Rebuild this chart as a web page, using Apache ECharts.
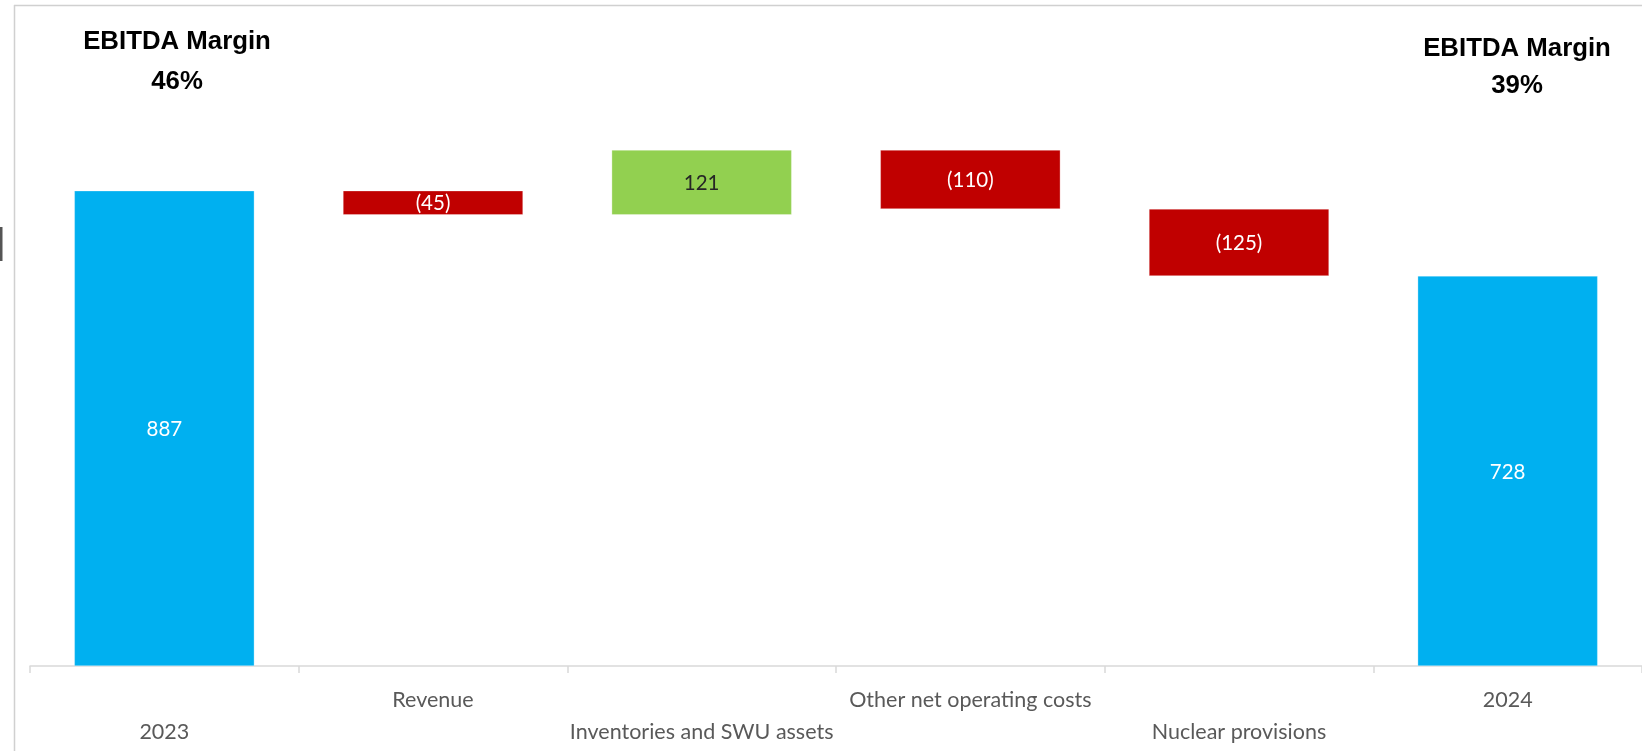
<!DOCTYPE html>
<html>
<head>
<meta charset="utf-8">
<title>EBITDA bridge 2023 to 2024</title>
<script src="https://cdn.jsdelivr.net/npm/echarts@6/dist/echarts.min.js"></script>
<style>
  html, body { margin: 0; padding: 0; background: #ffffff; }
  #chart { width: 1642px; height: 751px; }
</style>
</head>
<body>
<div id="chart"></div>
<script>
// Bridge steps, left to right
const categories = ['2023', 'Revenue', 'Inventories and SWU assets', 'Other net operating costs', 'Nuclear provisions', '2024'];
// Totals are absolute values; the steps in between are changes
const stepValues = [887, -45, 121, -110, -125, 728];
const stepKinds = ['total', 'delta', 'delta', 'delta', 'delta', 'total'];
// Margin notes above the two totals
const marginTitles = ['EBITDA Margin', 'EBITDA Margin'];
const marginValues = ['46%', '39%'];

const COLORS = { total: '#00B0F0', up: '#92D050', down: '#C00000' };

// Invisible offsets and visible heights for the floating bars
const baseData = [];
const barData = [];
let running = 0;
stepValues.forEach((v, i) => {
  if (stepKinds[i] === 'total') {
    running = v;
    baseData.push(0);
    barData.push({ value: v, raw: v, itemStyle: { color: COLORS.total }, label: { color: '#ffffff' } });
  } else {
    const start = running;
    running += v;
    baseData.push(Math.min(start, running));
    const up = v >= 0;
    barData.push({
      value: Math.abs(v), raw: v,
      itemStyle: { color: up ? COLORS.up : COLORS.down },
      label: { color: up ? '#262626' : '#ffffff' }
    });
  }
});

const fmt = v => (v < 0 ? '(' + Math.abs(v) + ')' : String(v));

const chart = echarts.init(document.getElementById('chart'), null, { renderer: 'canvas' });

chart.setOption({
  animation: false,
  backgroundColor: '#ffffff',
  grid: { left: 30, right: 0, top: 23, bottom: 85, containLabel: false },
  xAxis: {
    type: 'category',
    data: categories,
    axisLine: { lineStyle: { color: '#d9d9d9', width: 1.5 } },
    axisTick: { show: true, alignWithLabel: false, length: 7, lineStyle: { color: '#d9d9d9', width: 1.5 } },
    axisLabel: {
      interval: 0,
      margin: 18,
      color: '#595959',
      fontFamily: 'Lato',
      fontSize: 21.5,
      lineHeight: 32,
      formatter: (val, idx) => (idx % 2 === 0 ? '\n' + val : val)
    },
    splitLine: { show: false }
  },
  yAxis: {
    type: 'value',
    min: 0,
    max: 1200,
    show: false
  },
  series: [
    {
      name: 'base',
      type: 'bar',
      stack: 'bridge',
      barWidth: '67%',
      itemStyle: { color: 'transparent' },
      emphasis: { disabled: true },
      data: baseData
    },
    {
      name: 'EBITDA',
      type: 'bar',
      stack: 'bridge',
      barWidth: '67%',
      data: barData,
      itemStyle: { borderColor: 'rgba(255,255,255,0.6)', borderWidth: 0.5 },
      label: {
        show: true,
        position: 'inside',
        fontFamily: 'Lato',
        fontSize: 20.5,
        offset: [0, 1],
        formatter: p => fmt(p.data.raw)
      }
    }
  ],
  graphic: [
    // frame lines on the top and left
    { type: 'line', shape: { x1: 14, y1: 5.5, x2: 1642, y2: 5.5 }, style: { stroke: '#d0d0d0', lineWidth: 1.5 } },
    { type: 'line', shape: { x1: 14.5, y1: 5, x2: 14.5, y2: 751 }, style: { stroke: '#d0d0d0', lineWidth: 1.5 } },
    { type: 'rect', shape: { x: 0, y: 227, width: 2.5, height: 34 }, style: { fill: '#555555' } },
    // margin notes
    { type: 'text', x: 177, y: 42, style: { text: marginTitles[0], font: 'bold 25.8px "Liberation Sans", Arial, sans-serif', fill: '#000000', align: 'center', verticalAlign: 'middle' } },
    { type: 'text', x: 177, y: 82, style: { text: marginValues[0], font: 'bold 25.8px "Liberation Sans", Arial, sans-serif', fill: '#000000', align: 'center', verticalAlign: 'middle' } },
    { type: 'text', x: 1517, y: 49, style: { text: marginTitles[1], font: 'bold 25.8px "Liberation Sans", Arial, sans-serif', fill: '#000000', align: 'center', verticalAlign: 'middle' } },
    { type: 'text', x: 1517, y: 86, style: { text: marginValues[1], font: 'bold 25.8px "Liberation Sans", Arial, sans-serif', fill: '#000000', align: 'center', verticalAlign: 'middle' } }
  ]
});
</script>
</body>
</html>
